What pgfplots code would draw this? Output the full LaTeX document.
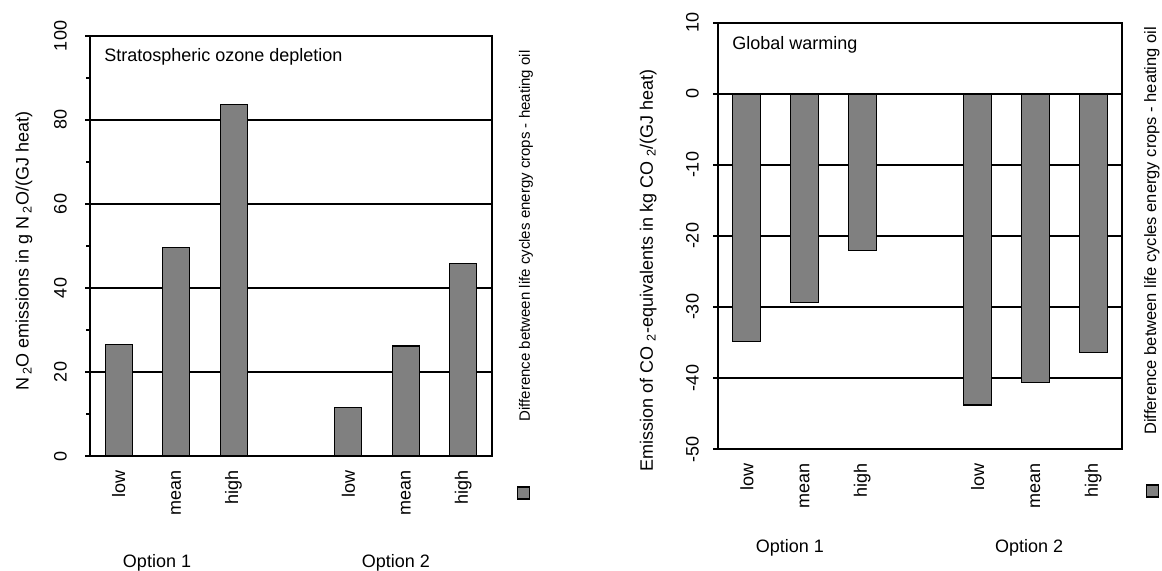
\documentclass[border=0pt]{standalone}
\usepackage{pgfplots}
\pgfplotsset{compat=1.18}
\usepackage{fontspec}
\setmainfont{Liberation Sans}
\definecolor{barfill}{RGB}{128,128,128}
\pgfplotsset{
  mybase/.style={
    scale only axis, anchor=south west, clip=false,
    xmin=-0.5, xmax=6.5,
    xtick={0,1,2,4,5,6},
    xticklabels={low,mean,high,low,mean,high},
    major x tick style={draw=none},
    xticklabel style={rotate=90, anchor=east, inner sep=0pt},
    xticklabel shift=9bp,
    ytick pos=left,
    tick align=outside,
    major tick length=5bp, minor tick length=4bp,
    yticklabel style={rotate=90, anchor=south, inner sep=0pt},
    ymajorgrids,
    major grid style={black, line width=1.1bp},
    axis line style={line width=1.4bp},
    every tick/.style={black, line width=1.1bp},
    font=\fontsize{18bp}{21bp}\selectfont,
    ylabel style={anchor=center},
    legend style={draw=none, fill=none, inner sep=0pt, nodes={inner sep=0pt}},
    legend image code/.code={\draw[fill=barfill, draw=black, line width=1.1bp] (0bp,-6bp) rectangle (12bp,6bp);},
  },
  mybar/.style={ybar, fill=barfill, draw=black, line width=1.1bp},
}
\begin{document}
\begin{tikzpicture}[x=1bp,y=1bp]
\useasboundingbox (0,0) rectangle (1162,571);
% Left chart
\begin{axis}[mybase,
  at={(90bp,115bp)}, width=402bp, height=420bp,
  ymin=0, ymax=100, ytick={0,20,40,60,80,100},
  yticklabels={0,20,40,60,80,100},
  minor y tick num=1,
  yticklabel shift=18bp,
  ylabel={N\,\textsubscript{2}O emissions in g N\,\textsubscript{2}O/(GJ heat)},
  ylabel style={at={(axis description cs:-0.164,0.488)}},
  legend style={at={(1.0796,-0.088)}, anchor=center},
  bar width=27bp,
]
\addplot[mybar] coordinates {(0,26.6) (1,49.7) (2,83.7) (4,11.6) (5,26.2) (6,45.8)};
\addlegendentry{}
\node[anchor=west, inner sep=0pt] at (axis description cs:0.035,0.95) {Stratospheric ozone depletion};
\node at (axis description cs:0.1667,-0.255) {Option 1};
\node at (axis description cs:0.761,-0.255) {Option 2};
\node[rotate=90, font=\fontsize{15bp}{18bp}\selectfont] at (axis description cs:1.0846,0.524) {Difference between life cycles energy crops - heating oil};
\end{axis}
% Right chart
\begin{axis}[mybase,
  at={(718bp,122bp)}, width=404bp, height=426bp,
  ymin=-50, ymax=10, ytick={-50,-40,-30,-20,-10,0,10},
  yticklabels={-50,-40,-30,-20,-10,0,10},
  yticklabel shift=14bp,
  ylabel={Emission of CO \textsubscript{2}-equivalents in kg CO \textsubscript{2}/(GJ heat)},
  ylabel style={at={(axis description cs:-0.173,0.42)}},
  legend style={at={(1.0767,-0.0986)}, anchor=center},
  bar width=28bp,
]
\addplot[mybar] coordinates {(0,-34.8) (1,-29.4) (2,-22.0) (4,-43.8) (5,-40.6) (6,-36.4)};
\addlegendentry{}
\node[anchor=west, inner sep=0pt] at (axis description cs:0.035,0.948) {Global warming};
\node at (axis description cs:0.178,-0.232) {Option 1};
\node at (axis description cs:0.770,-0.232) {Option 2};
\node[rotate=90, font=\fontsize{16.5bp}{19bp}\selectfont] at (axis description cs:1.074,0.512) {Difference between life cycles energy crops - heating oil};
\end{axis}
\end{tikzpicture}
\end{document}
